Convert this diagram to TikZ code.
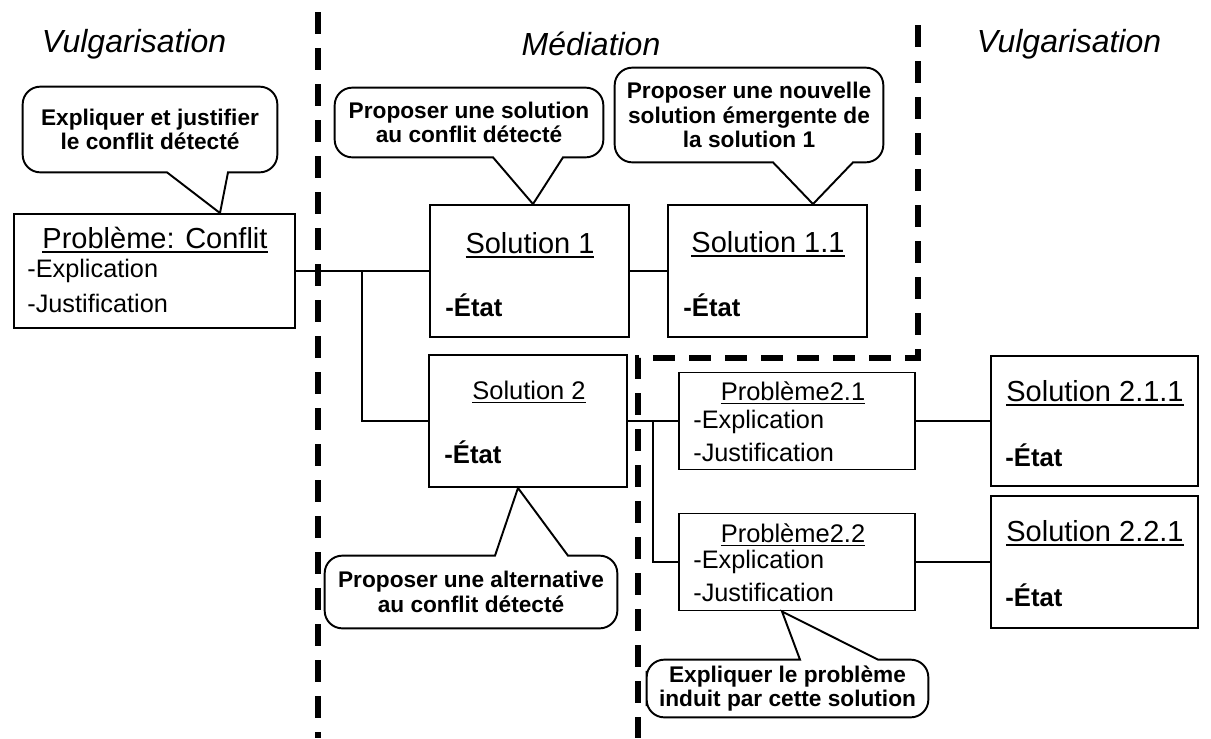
\documentclass[tikz,border=0pt]{standalone}
\usepackage{fontspec}
\setmainfont{Liberation Sans}
\usepackage{tikz}
% bulle : #1 nom, #2 cote de la pointe, #3 cote oppose, #4 pointe, #5 et #6 base de la pointe
\newcommand{\bulle}[6]{%
  \draw[contour] (#1.west) [rounded corners=10pt] -- (#1.#3 west) -- (#1.#3 east) -- (#1.#2 east)
    [sharp corners] -- (#6 |- #1.#2) -- (#4) -- (#5 |- #1.#2) [rounded corners=10pt] -- (#1.#2 west) -- cycle;}
% soulignement epais
\newcommand{\souligne}[1]{\setbox0\hbox{#1}\rlap{\rule[-2.4pt]{\wd0}{0.9pt}}\box0}

\begin{document}
\begin{tikzpicture}[x=0.02cm, y=-0.02cm,
    entete/.style={font=\fontsize{18.2}{22}\selectfont\itshape},
    boite/.style={draw, line width=1.1pt, inner sep=0pt},
    titre/.style={font=\fontsize{16.5}{20}\selectfont},
    soustitre/.style={font=\fontsize{14.5}{17}\selectfont},
    ligne/.style={anchor=west, inner sep=0pt, font=\fontsize{14.4}{17}\selectfont},
    etat/.style={anchor=west, inner sep=0pt, font=\fontsize{14.6}{17}\selectfont\bfseries},
    bulletxt/.style={align=center, inner sep=0pt, font=\fontsize{12.9}{14}\selectfont\bfseries},
    contour/.style={line width=1.1pt},
    lien/.style={line width=1.1pt},
    separation/.style={line width=3pt, dash pattern=on 12.5pt off 8pt}]
    \useasboundingbox (0,0) rectangle (1211,738);

    % zones
    \node[entete] (vulgG) at (134,44) {Vulgarisation};
    \node[entete] (mediation) at (591,44) {Médiation};
    \node[entete] (vulgD) at (1069,44) {Vulgarisation};
    \draw[separation] (318,12) -- (318,738);
    \draw[separation] (918,25) -- (918,358) -- (638,358) -- (638,738);

    % boites
    \node[boite, minimum width=5.62cm, minimum height=2.28cm] (conflit) at (154.5,271) {};
    \node[titre] (conflit-t) at (155,240) {\souligne{Problème: Conflit}};
    \node[ligne] (conflit-e) at (27,271) {-Explication};
    \node[ligne] (conflit-j) at (27,303) {-Justification};

    \node[boite, minimum width=3.98cm, minimum height=2.64cm] (sol1) at (529.5,271) {};
    \node[titre] (sol1-t) at (530,245) {\souligne{Solution 1}};
    \node[etat] (sol1-e) at (445,305) {-État};

    \node[boite, minimum width=3.98cm, minimum height=2.64cm] (sol11) at (767.5,271) {};
    \node[titre] (sol11-t) at (768,244) {\souligne{Solution 1.1}};
    \node[etat] (sol11-e) at (683,305) {-État};

    \node[boite, minimum width=3.96cm, minimum height=2.64cm] (sol2) at (528,421) {};
    \node[soustitre] (sol2-t) at (529,392) {\souligne{Solution 2}};
    \node[etat] (sol2-e) at (444,452) {-État};

    \node[boite, minimum width=4.72cm, minimum height=1.94cm] (p21) at (797,421) {};
    \node[soustitre] (p21-t) at (793,393) {\souligne{Problème2.1}};
    \node[ligne] (p21-e) at (693,422) {-Explication};
    \node[ligne] (p21-j) at (693,452) {-Justification};

    \node[boite, minimum width=4.72cm, minimum height=1.94cm] (p22) at (797,562) {};
    \node[soustitre] (p22-t) at (793,535) {\souligne{Problème2.2}};
    \node[ligne] (p22-e) at (693,562) {-Explication};
    \node[ligne] (p22-j) at (693,592) {-Justification};

    \node[boite, minimum width=4.14cm, minimum height=2.6cm] (s211) at (1094.5,421) {};
    \node[titre] (s211-t) at (1095,393) {\souligne{Solution 2.1.1}};
    \node[etat] (s211-e) at (1005,455) {-État};

    \node[boite, minimum width=4.14cm, minimum height=2.64cm] (s221) at (1094.5,562) {};
    \node[titre] (s221-t) at (1095,533) {\souligne{Solution 2.2.1}};
    \node[etat] (s221-e) at (1005,595) {-État};

    % liens
    \draw[lien] (conflit.east) -- (sol1.west);
    \coordinate (j1) at (362,271);
    \draw[lien] (j1) |- (sol2.west);
    \draw[lien] (sol1.east) -- (sol11.west);
    \draw[lien] (sol2.east) -- (p21.west);
    \coordinate (j2) at (653,421);
    \draw[lien] (j2) |- (p22.west);
    \draw[lien] (p21.east) -- (s211.west);
    \draw[lien] (p22.east) -- (s221.west);

    % bulles
    \node[bulletxt, minimum width=5.08cm, minimum height=1.7cm] (b1) at (150,129.5) {Expliquer et justifier\\le conflit détecté};
    \bulle{b1}{south}{north}{220,0 |- conflit.north}{167,0}{228,0}
    \node[bulletxt, minimum width=5.36cm, minimum height=1.38cm] (b2) at (469,122.5) {Proposer une solution\\au conflit détecté};
    \bulle{b2}{south}{north}{533,0 |- sol1.north}{493,0}{563,0}
    \node[bulletxt, minimum width=5.36cm, minimum height=1.88cm] (b3) at (749,115) {Proposer une nouvelle\\solution émergente de\\la solution 1};
    \bulle{b3}{south}{north}{813,0 |- sol11.north}{773,0}{853,0}
    \node[bulletxt, minimum width=5.84cm, minimum height=1.44cm] (b4) at (471,592) {Proposer une alternative\\au conflit détecté};
    \bulle{b4}{north}{south}{518,0 |- sol2.south}{495,0}{568,0}
    \node[bulletxt, minimum width=5.62cm, minimum height=1.14cm] (b5) at (787.5,688.5) {Expliquer le problème\\induit par cette solution};
    \bulle{b5}{north}{south}{782,0 |- p22.south}{800,0}{878,0}
\end{tikzpicture}
\end{document}
